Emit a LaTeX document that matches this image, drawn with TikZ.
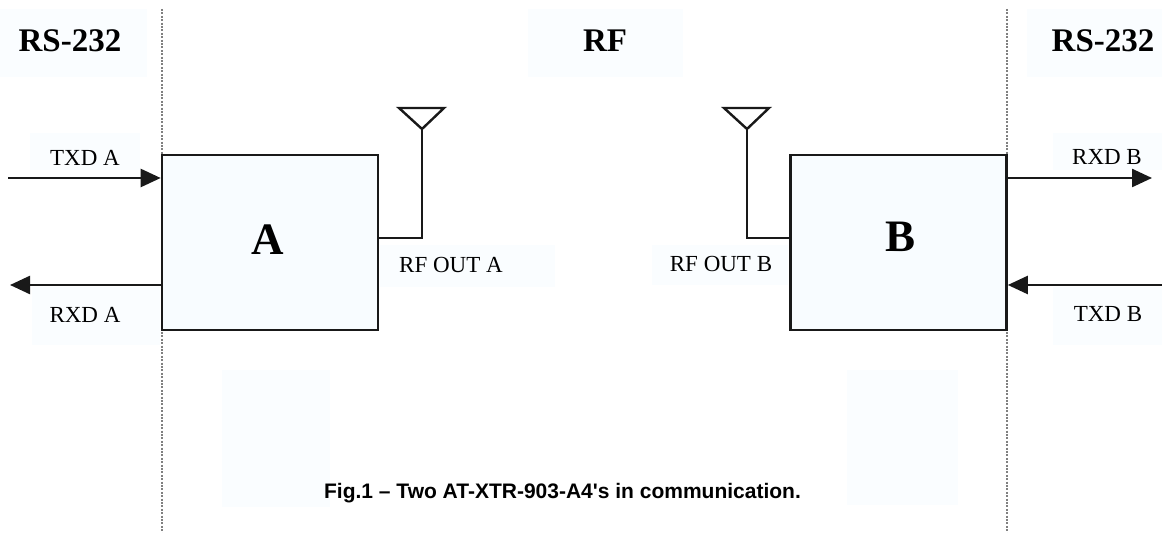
\documentclass[tikz,border=0pt]{standalone}
\usepackage{fontspec}
\setmainfont{Liberation Serif}
\newfontfamily\capfont{Liberation Sans}
\usetikzlibrary{arrows.meta}
\definecolor{faint}{RGB}{250,253,255}
\definecolor{boxfill}{RGB}{248,252,255}
\definecolor{ink}{RGB}{25,25,25}
\tikzset{
  unitbox/.style={draw=ink, line width=1.3pt, fill=boxfill, minimum width=108pt, minimum height=87.5pt, inner sep=0pt},
  sig/.style={draw=ink, line width=1.2pt, -{Triangle[length=10pt,width=9pt]}},
  wire/.style={draw=ink, line width=1.2pt},
  zone/.style={draw=gray, line width=0.8pt, dash pattern=on 1pt off 0.7pt},
  bg/.style={fill=faint, draw=none},
  head/.style={font=\bfseries\fontsize{16.5}{18}\selectfont, anchor=base, inner sep=0pt},
  lab/.style={font=\fontsize{11.5}{13}\selectfont, anchor=base, inner sep=0pt},
  big/.style={font=\bfseries\fontsize{22.5}{24}\selectfont, anchor=base, inner sep=0pt},
  captxt/.style={font=\capfont\bfseries\fontsize{10.5}{12}\selectfont, anchor=base, inner sep=0pt}
}
\begin{document}
\begin{tikzpicture}[x=0.5pt,y=-0.5pt]
\useasboundingbox (0,0) rectangle (1162,533);
\fill[white] (0,0) rectangle (1162,533);
% faint label backgrounds
\path[bg] (0,9) rectangle (147,77);
\path[bg] (528,9) rectangle (683,77);
\path[bg] (1027,9) rectangle (1162,77);
\path[bg] (30,133) rectangle (140,170);
\path[bg] (32,287) rectangle (160,345);
\path[bg] (1053,133) rectangle (1162,170);
\path[bg] (1053,287) rectangle (1162,345);
\path[bg] (380,245) rectangle (555,287);
\path[bg] (652,245) rectangle (788,285);
\path[bg] (222,370) rectangle (330,507);
\path[bg] (847,370) rectangle (958,505);
% zone separators
\coordinate (zl1) at (162,9);
\coordinate (zl2) at (162,533);
\coordinate (zr1) at (1007,9);
\coordinate (zr2) at (1007,533);
\draw[zone] (zl1) -- (zl2);
\draw[zone] (zr1) -- (zr2);
% headers
\node[head] (h1) at (70,52) {RS-232};
\node[head] (h2) at (605,52) {RF};
\node[head] (h3) at (1103,52) {RS-232};
% units
\node[unitbox] (A) at (270,242.5) {};
\node[unitbox] (B) at (898.5,242.5) {};
\node[big] (Alab) at (268,255) {A};
\node[big] (Blab) at (900,252) {B};
% RS-232 signals
\coordinate (txa) at (8,178);
\coordinate (rxa) at (10,285);
\coordinate (rxb) at (1152,178);
\coordinate (txb) at (1162,285);
\draw[sig] (txa) -- (A.west |- txa);
\draw[sig] (A.west |- rxa) -- (rxa);
\draw[sig] (B.east |- rxb) -- (rxb);
\draw[sig] (txb) -- (B.east |- txb);
\node[lab] (ltxa) at (85,166) {TXD A};
\node[lab] (lrxa) at (85,323) {RXD A};
\node[lab] (lrxb) at (1107,165) {RXD B};
\node[lab] (ltxb) at (1108,322) {TXD B};
% antennas
\coordinate (ma) at (422,129);
\coordinate (mb) at (747,129);
\coordinate (fa) at (422,238);
\coordinate (fb) at (747,238);
\draw[wire] (A.east |- fa) -- (fa) -- (ma);
\draw[wire] (B.west |- fb) -- (fb) -- (mb);
\draw[wire, line join=miter] (ma) -- (399,108) -- (444,108) -- cycle;
\draw[wire, line join=miter] (mb) -- (724,108) -- (769,108) -- cycle;
\node[lab] (rfa) at (451,273) {RF OUT A};
\node[lab] (rfb) at (721,272) {RF OUT B};
% caption
\node[captxt] (cap) at (562.5,499) {Fig.1 – Two AT-XTR-903-A4's in communication.};
\end{tikzpicture}
\end{document}
